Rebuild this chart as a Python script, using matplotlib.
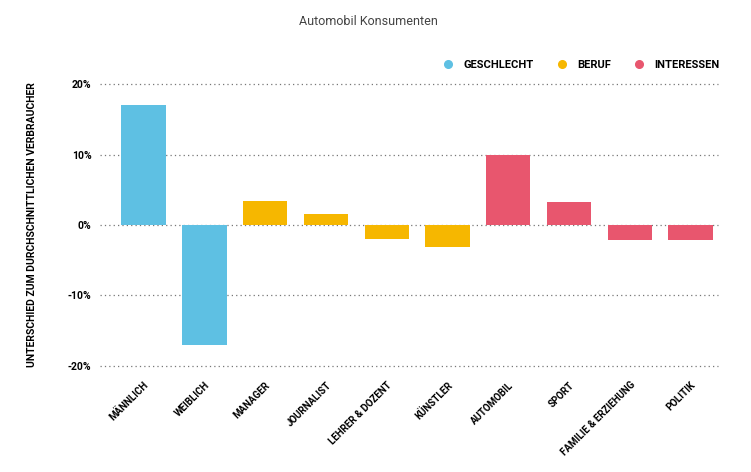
import matplotlib.pyplot as plt
from matplotlib.lines import Line2D

plt.rcParams['font.family'] = ['Roboto', 'DejaVu Sans']

categories = ["MÄNNLICH", "WEIBLICH", "MANAGER", "JOURNALIST", "LEHRER & DOZENT",
              "KÜNSTLER", "AUTOMOBIL", "SPORT", "FAMILIE & ERZIEHUNG", "POLITIK"]
values = [17, -17, 3.4, 1.6, -2.0, -3.1, 9.9, 3.3, -2.1, -2.1]
groups = ["GESCHLECHT", "GESCHLECHT", "BERUF", "BERUF", "BERUF",
          "BERUF", "INTERESSEN", "INTERESSEN", "INTERESSEN", "INTERESSEN"]
group_names = ["GESCHLECHT", "BERUF", "INTERESSEN"]
yticks = [-20, -10, 0, 10, 20]

colors = {"GESCHLECHT": "#5EC0E3", "BERUF": "#F6B700", "INTERESSEN": "#E8566E"}

fig = plt.figure(figsize=(7.51, 4.72), dpi=100)
ax = fig.add_axes([0.133, 0.2246, 0.823, 0.5974])

x = list(range(len(categories)))
ax.bar(x, values, width=0.73, color=[colors[g] for g in groups], zorder=2)

for y in yticks:
    ax.axhline(y, color="#777777", linestyle=(0, (1, 2.5)), linewidth=0.9, zorder=1, clip_on=False)

ax.set_xlim(-0.72, 9.45)
ax.set_ylim(-20, 20)
ax.set_yticks(yticks)
ax.set_yticklabels([f"{v}%" for v in yticks], fontsize=7.5, fontweight="bold")
ax.set_xticks(x)
ax.set_xticklabels(categories, rotation=45, ha="right", rotation_mode="anchor",
                   fontsize=7, fontweight="bold")
ax.tick_params(length=0, pad=6)
ax.tick_params(axis="x", pad=10)
for s in ax.spines.values():
    s.set_visible(False)

ax.set_ylabel("UNTERSCHIED ZUM DURCHSCHNITTLICHEN VERBRAUCHER", fontsize=7.5,
              fontweight="bold", labelpad=22)

fig.text(0.49, 0.955, "Automobil Konsumenten", ha="center", va="center",
         fontsize=9, color="#444444")

handles = [Line2D([], [], marker="o", linestyle="", markersize=5.5, color=colors[g]) for g in group_names]
fig.legend(handles, group_names, loc="center right", bbox_to_anchor=(0.972, 0.862),
           ncol=3, frameon=False, prop={"size": 8, "weight": "bold"},
           handlelength=1.0, handletextpad=0.9, columnspacing=2.0)

fig.savefig("out.png", dpi=100)
